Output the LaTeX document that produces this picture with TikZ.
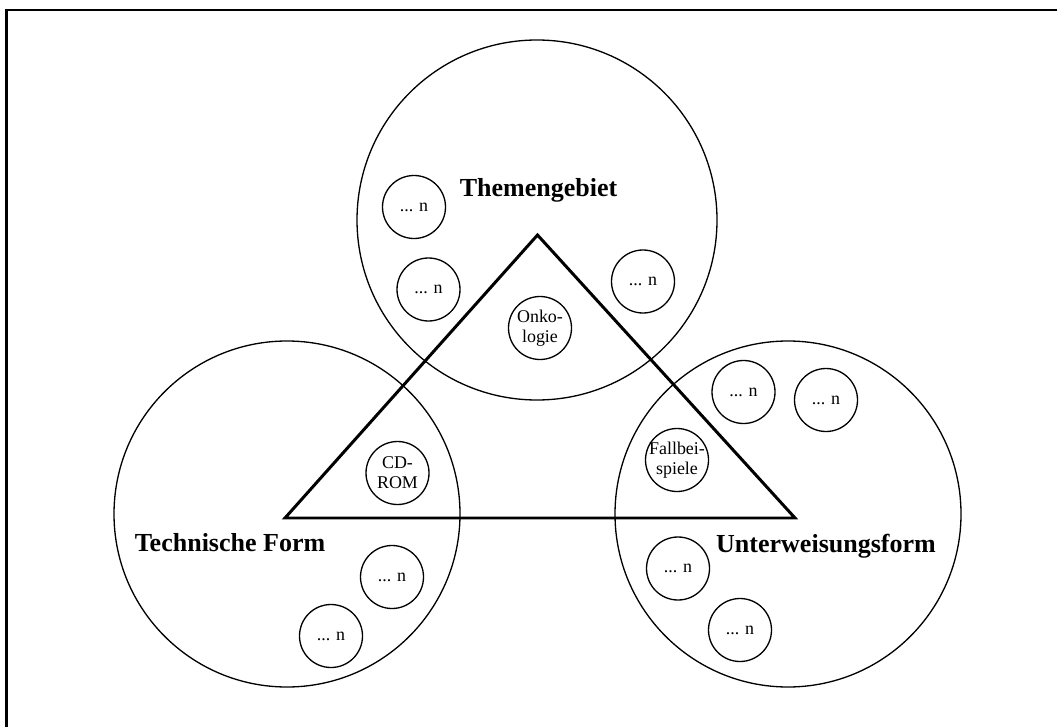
\documentclass[tikz,border=0pt]{standalone}
\usepackage{fontspec}
\setmainfont{Liberation Serif}
\usepackage{tikz}
\usetikzlibrary{shapes.geometric,positioning}

\newcommand{\bigfont}{\fontsize{14.8}{17}\selectfont\bfseries}
\newcommand{\smallfont}{\fontsize{10.2}{11.4}\selectfont}

\begin{document}
\begin{tikzpicture}
%
\useasboundingbox (0,0) rectangle (21.14cm,14.54cm);
%
\definecolor{cframe}{rgb}{0.0,0.0,0.0}
\definecolor{cbig}{rgb}{0.0,0.0,0.0}
\definecolor{csmall}{rgb}{0.0,0.0,0.0}
\definecolor{ctri}{rgb}{0.0,0.0,0.0}
\definecolor{ctext}{rgb}{0.0,0.0,0.0}
%
\tikzset{
  bigv/.style={circle,draw=cbig,line width=0.75pt,inner sep=0pt,minimum size=#1},
  smallv/.style={circle,draw=csmall,line width=0.75pt,inner sep=0pt,minimum size=1.26cm,
    label={[align=center,font=\smallfont,text=ctext,inner sep=0pt]center:{#1}}},
  area/.style={font=\bigfont,text=ctext,anchor=base,inner sep=0pt}
}
%
\draw[cframe,line width=1.15pt] (0.13cm,0cm) -- (0.13cm,14.34cm) -- (21.14cm,14.34cm);
%
\node[bigv=7.2cm] (vthema) at (10.74cm,10.14cm) {};
\node[bigv=6.92cm] (vtech) at (5.74cm,4.26cm) {};
\node[bigv=6.92cm] (vform) at (15.76cm,4.26cm) {};
%
\coordinate (ttop) at (10.75cm,9.84cm);
\coordinate (tleft) at (5.70cm,4.18cm);
\coordinate (tright) at (15.90cm,4.18cm);
\draw[ctri,line width=1.7pt,line join=miter] (ttop) -- (tleft) -- (tright) -- cycle;
%
\node[area] (lthema) at (10.77cm,10.60cm) {Themengebiet};
\node[area] (ltech) at (4.60cm,3.51cm) {Technische Form};
\node[area] (lform) at (16.52cm,3.49cm) {Unterweisungsform};
%
\node[smallv={Onko-\\logie}] (vonko) at (10.80cm,7.98cm) {};
\node[smallv={CD-\\ROM}] (vcd) at (7.95cm,5.08cm) {};
\node[smallv={Fallbei-\\spiele}] (vfall) at (13.54cm,5.34cm) {};
%
\node[smallv={... n}] (vt1) at (8.28cm,10.40cm) {};
\node[smallv={... n}] (vt2) at (8.57cm,8.75cm) {};
\node[smallv={... n}] (vt3) at (12.86cm,8.91cm) {};
\node[smallv={... n}] (vl1) at (7.84cm,3.00cm) {};
\node[smallv={... n}] (vl2) at (6.62cm,1.82cm) {};
\node[smallv={... n}] (vr1) at (14.87cm,6.70cm) {};
\node[smallv={... n}] (vr2) at (16.52cm,6.54cm) {};
\node[smallv={... n}] (vr3) at (13.56cm,3.17cm) {};
\node[smallv={... n}] (vr4) at (14.80cm,1.94cm) {};
%
\end{tikzpicture}
\end{document}
